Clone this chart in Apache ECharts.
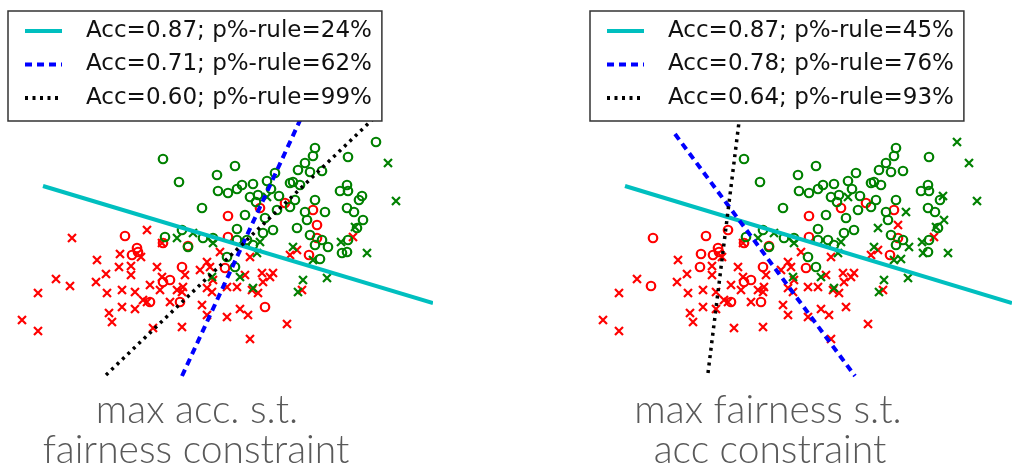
<!DOCTYPE html>
<html>
<head>
<meta charset="utf-8">
<script src="https://cdn.jsdelivr.net/npm/echarts@6/dist/echarts.min.js"></script>
<style>
  html, body { margin: 0; padding: 0; background: #fff; }
  #chart { width: 1012px; height: 468px; }
</style>
</head>
<body>
<div id="chart"></div>
<script>
// points: [x, y, marker in left panel, marker in right panel]
const greenPts = [
  [163,221,'o','o'],[179,198,'o','o'],[202,172,'o','o'],[217,205,'o','o'],[235,214,'o','o'],
  [218,189,'o','o'],[228,187,'o','o'],[237,191,'o','o'],[242,195,'o','o'],[253,196,'o','o'],
  [250,183,'o','o'],[258,185,'o','o'],[256,178,'o','o'],[267,199,'o','o'],[275,207,'o','o'],
  [271,191,'o','o'],[279,184,'o','o'],[277,170,'o','o'],[290,197,'o','o'],[293,198,'o','o'],
  [300,195,'o','o'],[298,210,'o','o'],[305,217,'o','o'],[310,208,'o','o'],[322,209,'o','o'],
  [315,232,'o','o'],[313,224,'o','o'],[348,223,'o','o'],[376,238,'o','x'],[295,180,'o','o'],
  [290,173,'o','o'],[315,180,'o','o'],[325,168,'o','x'],[305,168,'o','o'],[307,160,'o','o'],
  [297,152,'o','x'],[340,189,'o','o'],[348,189,'o','o'],[347,195,'o','o'],[362,184,'o','x'],
  [359,180,'o','o'],[347,172,'o','o'],[354,168,'o','o'],[363,160,'o','x'],[357,152,'o','o'],
  [348,140,'o','o'],[342,127,'o','x'],[347,128,'o','o'],[310,145,'o','o'],[315,135,'o','o'],
  [322,140,'o','o'],[328,133,'o','x'],[320,121,'o','x'],[273,150,'o','o'],[263,147,'o','o'],
  [265,162,'o','o'],[245,165,'o','o'],[237,151,'o','o'],[237,140,'o','o'],[247,140,'o','o'],
  [253,135,'o','o'],[182,150,'o','o'],[165,143,'o','o'],[203,142,'o','o'],[188,133,'o','o'],
  [213,142,'o','o'],[227,123,'o','o'],[235,113,'o','o'],
  [388,217,'x','x'],[396,179,'x','x'],[367,127,'x','x'],[341,138,'x','x'],[327,102,'x','x'],
  [303,100,'x','x'],[298,88,'x','x'],[293,133,'x','x'],[355,153,'x','x'],[313,120,'x','x'],
  [177,142,'x','x'],[193,147,'x','x'],[213,137,'x','x'],[260,138,'x','x'],[257,127,'x','x'],
  [253,92,'x','x'],[240,103,'x','x'],[212,103,'x','x'],[267,183,'x','x']
];

const redPts = [
  [125,144,'o','o'],[137,132,'o','o'],[132,125,'o','o'],[138,128,'o','o'],[163,137,'o','o'],
  [188,134,'o','o'],[228,164,'o','o'],[260,172,'o','o'],[285,177,'o','o'],[313,170,'o','o'],
  [317,155,'o','x'],[317,142,'o','o'],[309,125,'o','o'],[228,143,'o','o'],[225,112,'o','o'],
  [182,113,'o','o'],[163,98,'o','o'],[170,100,'o','o'],[150,78,'o','o'],[180,78,'o','o'],
  [265,73,'o','x'],
  [22,60,'x','x'],[38,49,'x','x'],[38,87,'x','x'],[56,101,'x','x'],[70,94,'x','o'],
  [72,142,'x','o'],[97,120,'x','x'],[106,106,'x','x'],[96,98,'x','x'],[107,87,'x','x'],
  [109,67,'x','x'],[112,58,'x','x'],[122,90,'x','x'],[122,73,'x','x'],[135,88,'x','x'],
  [135,71,'x','x'],[119,113,'x','o'],[131,105,'x','x'],[131,114,'x','x'],[120,126,'x','o'],
  [141,123,'x','x'],[147,150,'x','o'],[162,137,'x','x'],[157,113,'x','x'],[162,103,'x','x'],
  [150,95,'x','x'],[160,90,'x','x'],[143,80,'x','x'],[147,78,'x','x'],[170,78,'x','x'],
  [177,90,'x','x'],[182,88,'x','x'],[183,93,'x','x'],[185,105,'x','x'],[200,110,'x','x'],
  [207,118,'x','x'],[210,113,'x','x'],[220,128,'x','x'],[207,92,'x','x'],[212,88,'x','x'],
  [202,75,'x','x'],[207,65,'x','x'],[213,100,'x','x'],[227,93,'x','x'],[237,93,'x','x'],
  [245,105,'x','x'],[240,71,'x','x'],[248,65,'x','x'],[227,63,'x','x'],[252,90,'x','x'],
  [258,87,'x','x'],[262,107,'x','x'],[263,98,'x','x'],[270,103,'x','x'],[273,107,'x','x'],
  [250,41,'x','x'],[287,56,'x','x'],[182,53,'x','x'],[153,52,'x','x'],[290,125,'x','x'],
  [297,130,'x','x'],[302,90,'x','x'],[353,143,'x','x'],[250,123,'x','x']
];

// decision boundaries, two end points each
const leftNames = ['Acc=0.87; p%-rule=24%', 'Acc=0.71; p%-rule=62%', 'Acc=0.60; p%-rule=99%'];
const leftLines = [
  [[43, 194], [433, 77]],
  [[182, 4], [314, 290]],
  [[106, 5], [373, 261]]
];
const rightNames = ['Acc=0.87; p%-rule=45%', 'Acc=0.78; p%-rule=76%', 'Acc=0.64; p%-rule=93%'];
const rightLines = [
  [[44, 194], [431, 77]],
  [[94, 246], [274, 4]],
  [[127, 7], [158.5, 262]]
];
const captions = [
  ['max acc. s.t.', 'fairness constraint'],
  ['max fairness s.t.', 'acc constraint']
];

const chart = echarts.init(document.getElementById('chart'));

const lineStyles = [
  { color: '#00bfbf', width: 4, type: 'solid' },
  { color: '#0000ff', width: 4, type: [7, 5] },
  { color: '#000000', width: 3.5, type: [3, 4.5] }
];
const crossPath = 'path://M0,0L10,10M10,0L0,10';

function scatter(pts, col, shape, color, panel) {
  return {
    type: 'scatter',
    xAxisIndex: panel,
    yAxisIndex: panel,
    symbol: shape === 'o' ? 'circle' : crossPath,
    symbolSize: shape === 'o' ? 8.5 : 8,
    itemStyle: { color: 'none', borderColor: color, borderWidth: 2.2, opacity: 1 },
    silent: true,
    z: 2,
    data: pts.filter(p => p[col] === shape).map(p => [p[0], p[1]])
  };
}

const series = [];
[0, 1].forEach(panel => {
  const col = panel === 0 ? 2 : 3;
  series.push(scatter(redPts, col, 'x', '#ff0000', panel));
  series.push(scatter(redPts, col, 'o', '#ff0000', panel));
  series.push(scatter(greenPts, col, 'x', '#008000', panel));
  series.push(scatter(greenPts, col, 'o', '#008000', panel));
  const names = panel === 0 ? leftNames : rightNames;
  const lines = panel === 0 ? leftLines : rightLines;
  lines.forEach((seg, i) => {
    series.push({
      type: 'line',
      name: names[i],
      xAxisIndex: panel,
      yAxisIndex: panel,
      symbol: 'none',
      silent: true,
      z: 3,
      lineStyle: lineStyles[i],
      itemStyle: { color: lineStyles[i].color },
      data: seg
    });
  });
});

function legend(names, left) {
  return {
    orient: 'vertical',
    left: left,
    top: 11,
    padding: [8, 10, 11, 15],
    itemWidth: 37,
    itemHeight: 14,
    itemGap: 9.5,
    backgroundColor: '#fff',
    borderColor: '#333',
    borderWidth: 1.5,
    borderRadius: 0,
    selectedMode: false,
    itemStyle: { opacity: 0 },
    lineStyle: { width: 4 },
    textStyle: { fontFamily: 'DejaVu Sans', fontSize: 23, color: '#111', lineHeight: 24, padding: [0, 0, 0, 19] },
    data: names
  };
}

const capStyle = { align: 'center', verticalAlign: 'middle', fontFamily: 'Lato', fontWeight: 300, fontSize: 39, fill: '#595959' };

const option = {
  animation: false,
  grid: [
    { left: 0, top: 0, width: 431, height: 380 },
    { left: 581, top: 0, width: 431, height: 380 }
  ],
  xAxis: [0, 1].map(i => ({ type: 'value', gridIndex: i, min: 0, max: 431, show: false })),
  yAxis: [0, 1].map(i => ({ type: 'value', gridIndex: i, min: 0, max: 380, show: false })),
  legend: [legend(leftNames, 8), legend(rightNames, 590)],
  graphic: [
    { type: 'text', style: Object.assign({ text: captions[0][0], x: 197, y: 410 }, capStyle) },
    { type: 'text', style: Object.assign({ text: captions[0][1], x: 196, y: 450 }, capStyle) },
    { type: 'text', style: Object.assign({ text: captions[1][0], x: 768, y: 410 }, capStyle) },
    { type: 'text', style: Object.assign({ text: captions[1][1], x: 770, y: 450 }, capStyle) }
  ],
  series: series
};

chart.setOption(option);
</script>
</body>
</html>
